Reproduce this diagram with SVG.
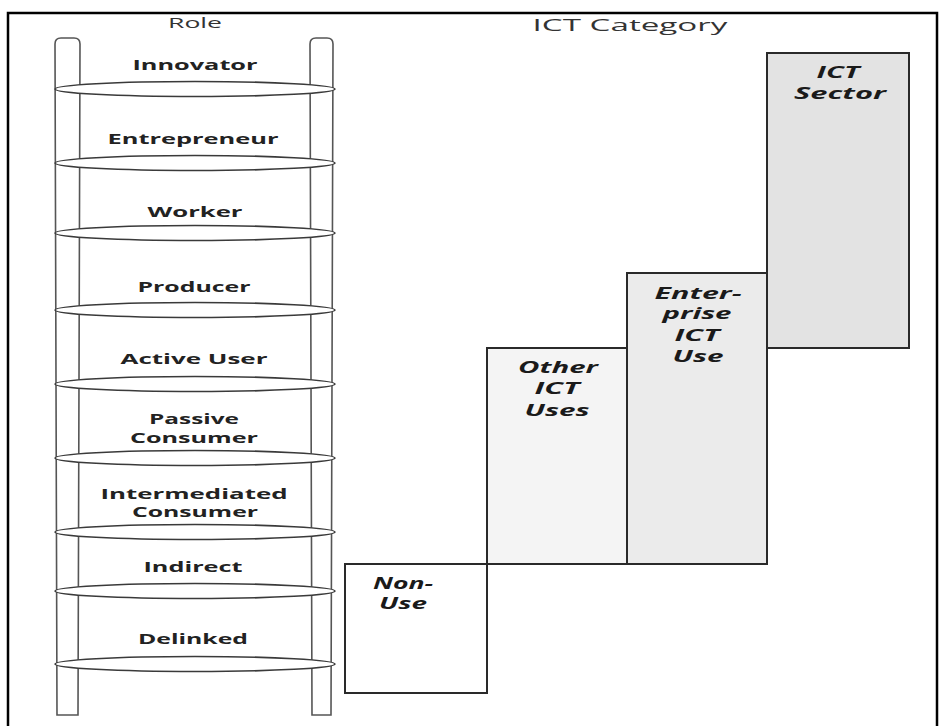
<svg xmlns="http://www.w3.org/2000/svg" width="941" height="726" viewBox="0 0 941 726">
<defs>
<style>
.rail{fill:#fff;stroke:#555;stroke-width:1.6}
.rung{fill:#fff;stroke:#3a3a3a;stroke-width:1.6}
.role{font-family:"Open Sans","Liberation Sans",sans-serif;font-weight:bold;font-size:14px;fill:#222;text-anchor:middle}
.hdr{font-family:"Open Sans","Liberation Sans",sans-serif;fill:#333;text-anchor:middle}
.box{stroke:#2a2a2a;stroke-width:2}
.cat{font-family:"Open Sans","Liberation Sans",sans-serif;font-weight:bold;font-style:italic;font-size:16px;fill:#1a1a1a;text-anchor:middle}
</style>
</defs>
<rect width="941" height="726" fill="#fff"/>
<g id="frame">
<rect x="8" y="13" width="929" height="740" fill="none" stroke="#000" stroke-width="2.5"/>
</g>
<g id="headers">
<text class="hdr" x="195" y="28" font-size="14" textLength="54" lengthAdjust="spacingAndGlyphs">Role</text>
<text class="hdr" x="630" y="31" font-size="17" textLength="195" lengthAdjust="spacingAndGlyphs">ICT Category</text>
</g>
<g id="ladder">
<path class="rail" d="M57,715 L55,44 Q55,38 61,38 L74,38 Q80,38 80,44 L78,715 Z"/>
<path class="rail" d="M312,715 L310,44 Q310,38 316,38 L327,38 Q333,38 333,44 L331,715 Z"/>
<ellipse class="rung" cx="195" cy="89" rx="140" ry="7.5"/>
<ellipse class="rung" cx="195" cy="163" rx="140" ry="7.5"/>
<ellipse class="rung" cx="195" cy="233" rx="140" ry="7.5"/>
<ellipse class="rung" cx="195" cy="310" rx="140" ry="7.5"/>
<ellipse class="rung" cx="195" cy="384" rx="140" ry="7.5"/>
<ellipse class="rung" cx="195" cy="458" rx="140" ry="7.5"/>
<ellipse class="rung" cx="195" cy="532" rx="140" ry="7.5"/>
<ellipse class="rung" cx="195" cy="591" rx="140" ry="7.5"/>
<ellipse class="rung" cx="195" cy="664" rx="140" ry="7.5"/>
</g>
<g id="role-innovator"><text class="role" x="195" y="70" textLength="125" lengthAdjust="spacingAndGlyphs">Innovator</text></g>
<g id="role-entrepreneur"><text class="role" x="193" y="144" textLength="171" lengthAdjust="spacingAndGlyphs">Entrepreneur</text></g>
<g id="role-worker"><text class="role" x="195" y="217" textLength="95" lengthAdjust="spacingAndGlyphs">Worker</text></g>
<g id="role-producer"><text class="role" x="194" y="292" textLength="113" lengthAdjust="spacingAndGlyphs">Producer</text></g>
<g id="role-active-user"><text class="role" x="194" y="364" textLength="147" lengthAdjust="spacingAndGlyphs">Active User</text></g>
<g id="role-passive-consumer">
<text class="role" x="194" y="424" textLength="90" lengthAdjust="spacingAndGlyphs">Passive</text>
<text class="role" x="194" y="443" textLength="128" lengthAdjust="spacingAndGlyphs">Consumer</text>
</g>
<g id="role-intermediated-consumer">
<text class="role" x="194" y="499" textLength="187" lengthAdjust="spacingAndGlyphs">Intermediated</text>
<text class="role" x="195" y="517" textLength="126" lengthAdjust="spacingAndGlyphs">Consumer</text>
</g>
<g id="role-indirect"><text class="role" x="193" y="572" textLength="99" lengthAdjust="spacingAndGlyphs">Indirect</text></g>
<g id="role-delinked"><text class="role" x="193" y="644" textLength="110" lengthAdjust="spacingAndGlyphs">Delinked</text></g>
<g id="cat-non-use">
<rect class="box" x="345" y="564" width="142" height="129" fill="#fff"/>
<text class="cat" x="403" y="589" textLength="60" lengthAdjust="spacingAndGlyphs">Non-</text>
<text class="cat" x="403" y="609" textLength="48" lengthAdjust="spacingAndGlyphs">Use</text>
</g>
<g id="cat-other-ict-uses">
<rect class="box" x="487" y="348" width="140" height="216" fill="#f4f4f4"/>
<text class="cat" x="558" y="373" textLength="80" lengthAdjust="spacingAndGlyphs">Other</text>
<text class="cat" x="557" y="394" textLength="45" lengthAdjust="spacingAndGlyphs">ICT</text>
<text class="cat" x="557" y="416" textLength="65" lengthAdjust="spacingAndGlyphs">Uses</text>
</g>
<g id="cat-enterprise-ict-use">
<rect class="box" x="627" y="273" width="140" height="291" fill="#ebebeb"/>
<text class="cat" x="698" y="299" textLength="87" lengthAdjust="spacingAndGlyphs">Enter-</text>
<text class="cat" x="697" y="319" textLength="69" lengthAdjust="spacingAndGlyphs">prise</text>
<text class="cat" x="697" y="341" textLength="45" lengthAdjust="spacingAndGlyphs">ICT</text>
<text class="cat" x="698" y="362" textLength="51" lengthAdjust="spacingAndGlyphs">Use</text>
</g>
<g id="cat-ict-sector">
<rect class="box" x="767" y="53" width="142" height="295" fill="#e3e3e3"/>
<text class="cat" x="838" y="78" textLength="43" lengthAdjust="spacingAndGlyphs">ICT</text>
<text class="cat" x="840" y="99" textLength="92" lengthAdjust="spacingAndGlyphs">Sector</text>
</g>
<g id="connectors"/>
</svg>
